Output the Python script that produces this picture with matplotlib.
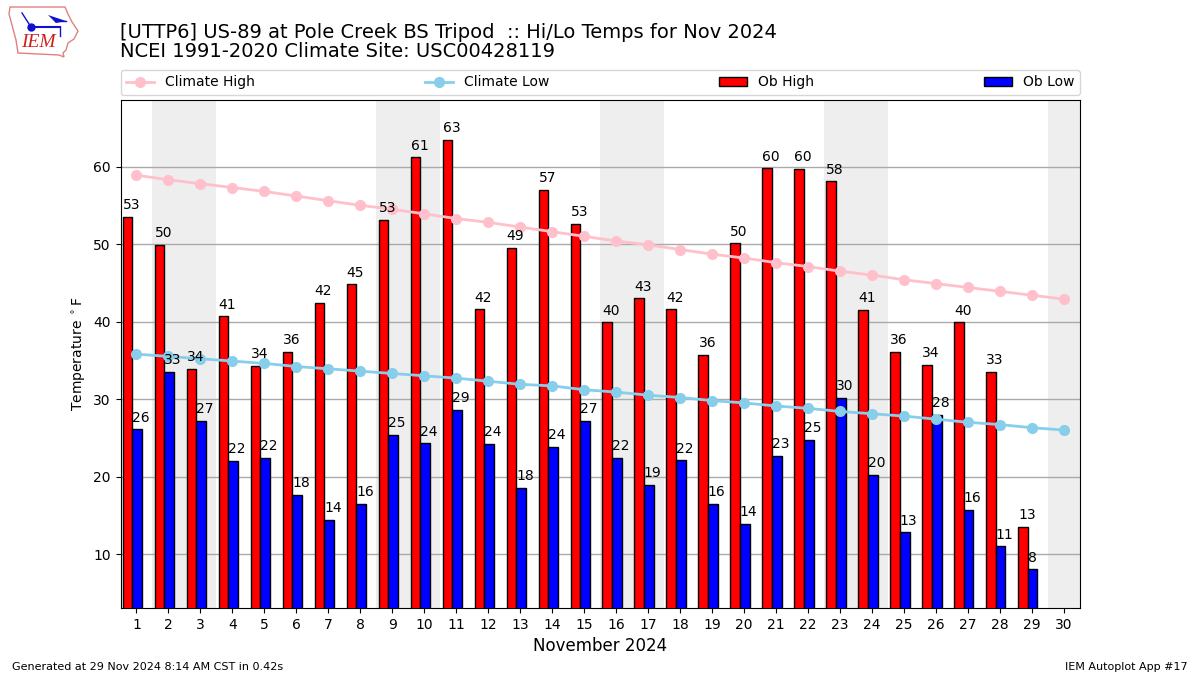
import numpy as np
import matplotlib
matplotlib.use("Agg")
import matplotlib.pyplot as plt
from matplotlib.patches import Polygon

days = list(range(1, 31))
ob_days = list(range(1, 30))
ob_high = [53.5, 49.9, 33.9, 40.7, 34.3, 36.1, 42.4, 44.8, 53.1, 61.2, 63.5, 41.6, 49.5, 57.0, 52.6,
           39.9, 43.0, 41.6, 35.7, 50.1, 59.8, 59.7, 58.1, 41.5, 36.1, 34.4, 39.9, 33.5, 13.5]
ob_low = [26.1, 33.5, 27.2, 22.0, 22.4, 17.6, 14.4, 16.5, 25.4, 24.3, 28.6, 24.2, 18.5, 23.8, 27.2,
          22.4, 18.9, 22.1, 16.5, 13.9, 22.7, 24.7, 30.2, 20.2, 12.8, 28.0, 15.7, 11.0, 8.0]
high_labels = [53, 50, 34, 41, 34, 36, 42, 45, 53, 61, 63, 42, 49, 57, 53,
               40, 43, 42, 36, 50, 60, 60, 58, 41, 36, 34, 40, 33, 13]
low_labels = [26, 33, 27, 22, 22, 18, 14, 16, 25, 24, 29, 24, 18, 24, 27,
              22, 19, 22, 16, 14, 23, 25, 30, 20, 13, 28, 16, 11, 8]
climate_high = [58.9, 58.3, 57.8, 57.3, 56.8, 56.2, 55.6, 55.0, 54.5, 53.9, 53.3, 52.8, 52.2, 51.6, 51.0,
                50.4, 49.9, 49.3, 48.7, 48.2, 47.6, 47.1, 46.5, 46.0, 45.4, 44.9, 44.4, 43.9, 43.4, 42.9]
climate_low = [35.8, 35.5, 35.2, 34.9, 34.6, 34.2, 33.9, 33.6, 33.3, 33.0, 32.7, 32.3, 31.9, 31.7, 31.2,
               30.9, 30.5, 30.2, 29.8, 29.5, 29.1, 28.8, 28.4, 28.1, 27.8, 27.4, 27.0, 26.7, 26.3, 26.0]
weekend_spans = [(1.5, 3.5), (8.5, 10.5), (15.5, 17.5), (22.5, 24.5), (29.5, 30.5)]

fig = plt.figure(figsize=(12, 6.75), dpi=100)
ax = fig.add_axes([120.5 / 1200, 1 - 608 / 675, 959.5 / 1200, 508 / 675])

for a, b in weekend_spans:
    ax.axvspan(a, b, color="#eeeeee", lw=0, zorder=0)
ax.set_axisbelow(True)
ax.grid(axis="y", color="#aaaaaa", lw=1, zorder=1)

x = np.array(ob_days, dtype=float)
width = 0.295
red_left = x - 0.43
blue_left = x - 0.135
ax.plot(days, climate_high, "-o", color="pink", ms=7, lw=2, label="Climate High", zorder=5)
ax.plot(days, climate_low, "-o", color="skyblue", ms=7, lw=2, label="Climate Low", zorder=5)
ax.bar(red_left, ob_high, width=width, align="edge", color="red", edgecolor="k", lw=1,
       label="Ob High", zorder=3)
ax.bar(blue_left, ob_low, width=width + 0.01, align="edge", color="blue", edgecolor="k", lw=1,
       label="Ob Low", zorder=3)

for xp, v, t in zip(red_left, ob_high, high_labels):
    ax.text(xp, v + 0.6, str(t), ha="left", va="bottom", fontsize=10, color="k", zorder=6)
for xp, v, t in zip(blue_left, ob_low, low_labels):
    ax.text(xp, v + 0.6, str(t), ha="left", va="bottom", fontsize=10, color="k", zorder=6)

ax.set_xlim(0.5, 30.5)
ax.set_ylim(3.03, 68.6)
ax.set_xticks(days)
ax.set_yticks(range(10, 61, 10))
ax.tick_params(labelsize=10)
ax.set_xlabel("November 2024", fontsize=12)
ax.set_ylabel(r"Temperature $^\circ$F", fontsize=10)

ax.legend(loc="lower left", bbox_to_anchor=(0, 1.0098, 1, 0.05), ncol=4, mode="expand",
          borderaxespad=0, fontsize=10)

fig.text(120 / 1200, 1 - 38 / 675, "[UTTP6] US-89 at Pole Creek BS Tripod  :: Hi/Lo Temps for Nov 2024",
         fontsize=14, ha="left", va="baseline")
fig.text(120 / 1200, 1 - 57 / 675, "NCEI 1991-2020 Climate Site: USC00428119",
         fontsize=14, ha="left", va="baseline")
fig.text(12 / 1200, 1 - 670 / 675, "Generated at 29 Nov 2024 8:14 AM CST in 0.42s",
         fontsize=8, ha="left", va="baseline")
fig.text(1188 / 1200, 1 - 670 / 675, "IEM Autoplot App #17",
         fontsize=8, ha="right", va="baseline")

# IEM logo: state outline, wind barb and lettering
logo = fig.add_axes([0, 1 - 60 / 675, 80 / 1200, 60 / 675])
logo.set_xlim(0, 80)
logo.set_ylim(60, 0)
logo.axis("off")
outline = [(10, 7), (65, 7), (68, 14), (72, 22), (78, 31), (74, 39), (68, 43), (66, 50),
           (63, 53), (64, 57), (59, 55), (18, 53), (16, 40), (12, 25), (9, 14)]
logo.add_patch(Polygon(outline, closed=True, fill=False, edgecolor="#e08080", lw=1))
logo.plot([31, 60], [27, 27], color="#1010d0", lw=1.5)
logo.plot([31], [27], "o", color="#1010d0", ms=5)
logo.plot([31, 22], [27, 13], color="#1010d0", lw=1)
logo.plot([60, 60], [27, 36], color="#1010d0", lw=1)
logo.add_patch(Polygon([(48, 15), (66, 21), (56, 23)], closed=True, color="#1010d0", lw=0))
logo.plot([55, 66], [21, 21], color="#1010d0", lw=1)
logo.text(21, 47, "IEM", color="#d02020", fontsize=14, style="italic",
          family="Liberation Serif", ha="left", va="baseline")

fig.savefig("out.png", dpi=100)
